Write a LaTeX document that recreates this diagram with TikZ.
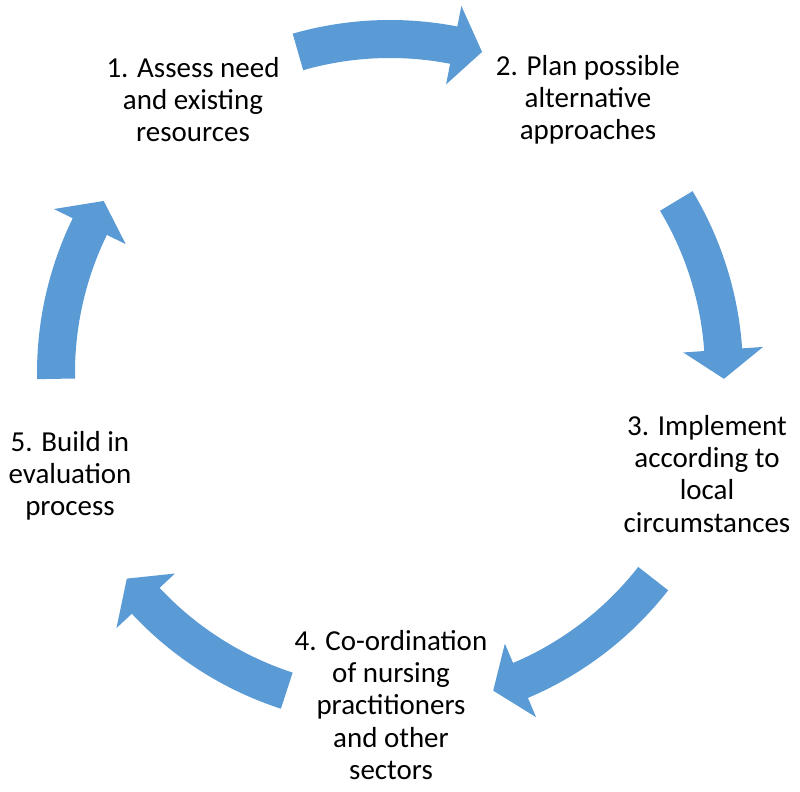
\documentclass[tikz,border=0pt]{standalone}
\usepackage{fontspec}
\setmainfont{Carlito}
\definecolor{arrowblue}{HTML}{5B9BD5}
\begin{document}
\begin{tikzpicture}[
  stagetext/.style={align=center, font=\fontsize{20.6}{22.8}\selectfont},
  cyclearrow/.style={fill=arrowblue}]
\useasboundingbox (-9.75,-10.475) rectangle (10.25,9.325);
% curved block arrows: tail angle / tip angle
\foreach \a/\b in {106/74, 31/-1, -38/-72, -108/-142, 181/149}
  \fill[cyclearrow] (\a:8.825) arc[start angle=\a, end angle=\b+5, radius=8.825]
    -- ({\b+5}:9.35) -- (\b:8.35) -- ({\b+5}:7.35) -- ({\b+5}:7.875)
    arc[start angle=\b+5, end angle=\a, radius=7.875] -- cycle;
\node[stagetext] (assess) at (-4.925,6.825) {1. Assess need\\and existing\\resources};
\node[stagetext] (plan) at (4.95,6.825) {2. Plan possible\\alternative\\approaches};
\node[stagetext] (implement) at (7.925,-2.525) {3. Implement\\according to\\local\\circumstances};
\node[stagetext] (coord) at (0.025,-8.3) {4. Co-ordination\\of nursing\\practitioners\\and other\\sectors};
\node[stagetext] (evaluate) at (-8.0,-2.575) {5. Build in\\evaluation\\process};
\end{tikzpicture}
\end{document}
